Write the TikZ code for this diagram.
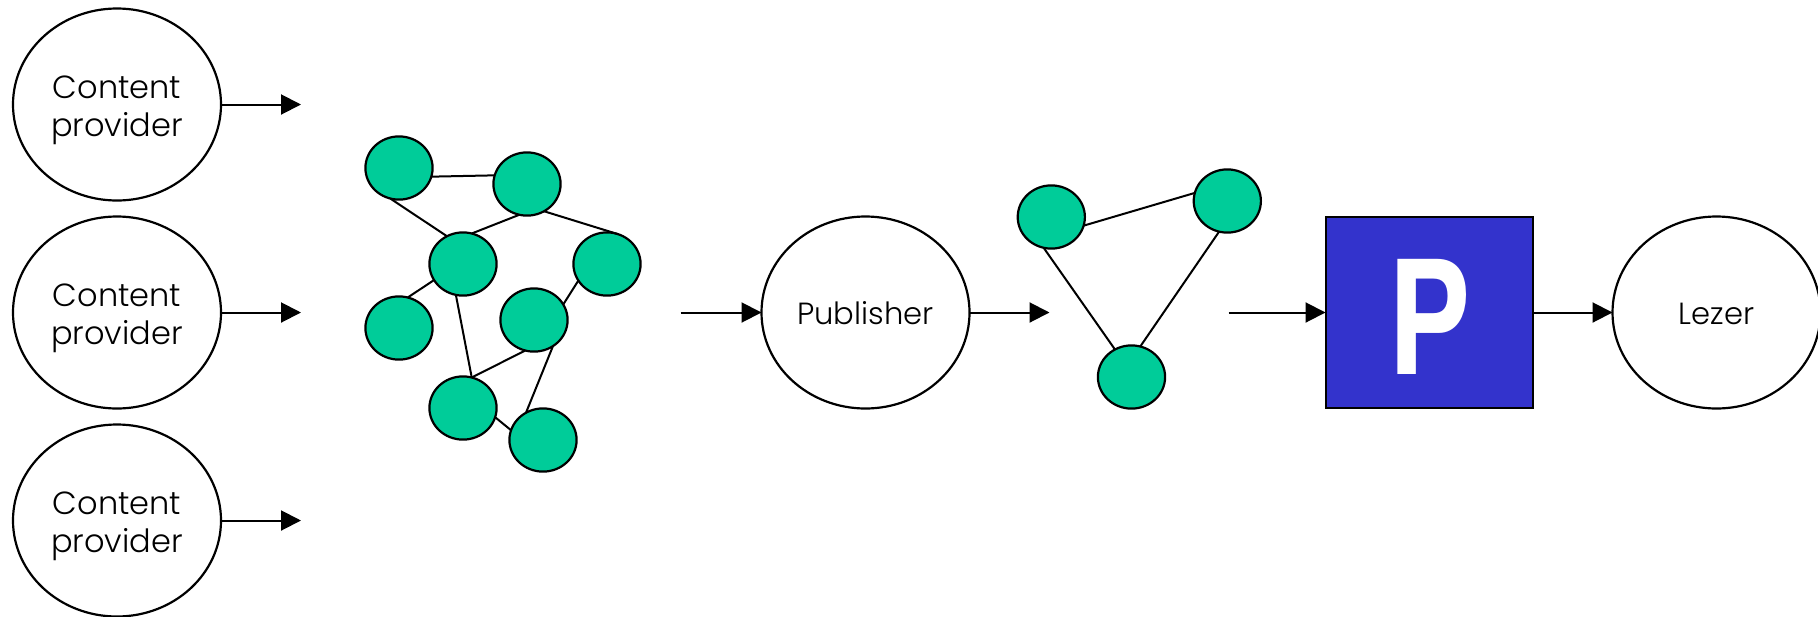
\documentclass[tikz,border=0pt]{standalone}
\usepackage{fontspec}
\setmainfont{Poppins}[UprightFont=* Light]
\newfontfamily\pfont{TeX Gyre Heros}[UprightFont=* Bold,FakeStretch=0.78]
\usetikzlibrary{shapes.geometric,arrows.meta}
\definecolor{nodegreen}{HTML}{00CC99}
\definecolor{boxblue}{HTML}{3333CC}
\tikzset{
  bigell/.style={ellipse,draw=black,line width=1.1pt,fill=white,minimum width=104pt,minimum height=96pt,inner sep=0pt,outer sep=0pt,align=center,font=\fontsize{15.3}{18.75}\selectfont},
  bigtwo/.style={bigell,font=\fontsize{16}{18.75}\selectfont},
  dot/.style={ellipse,draw=black,line width=1.1pt,fill=nodegreen,minimum width=33.6pt,minimum height=31.6pt,inner sep=0pt,outer sep=0pt},
  link/.style={draw=black,line width=1pt},
  flow/.style={draw=black,line width=1pt,-{Triangle[length=10pt,width=10pt]}},
  pbox/.style={rectangle,draw=black,line width=1pt,fill=boxblue,minimum width=103.5pt,minimum height=95.5pt,inner sep=0pt,outer sep=0pt}
}
\begin{document}
\begin{tikzpicture}[x=0.5pt,y=-0.5pt]
\useasboundingbox (0,0) rectangle (1818,616);
\node[bigtwo] (c1) at (117,104.5) {\rule{0pt}{17pt}Content\\provider};
\node[bigtwo] (c2) at (117,312.5) {\rule{0pt}{17pt}Content\\provider};
\node[bigtwo] (c3) at (117,520.5) {\rule{0pt}{17pt}Content\\provider};
\node[bigell] (pub) at (865.5,312.5) {\rule{0pt}{12.5pt}Publisher};
\node[bigell] (lez) at (1716.5,312.5) {\rule{0pt}{12.5pt}Lezer};
\node[pbox] (box) at (1429,312.5) {};
\node[anchor=base,inner sep=0pt,text=white,font=\pfont\fontsize{79}{79}\selectfont] (plogo) at (1430,374) {P};
\node[dot] (n1) at (399,168) {};
\node[dot] (n2) at (527,184) {};
\node[dot] (n3) at (463,264) {};
\node[dot] (n4) at (607,264) {};
\node[dot] (n5) at (399,328) {};
\node[dot] (n6) at (534,320) {};
\node[dot] (n7) at (463,408) {};
\node[dot] (n8) at (543,440) {};
\node[dot] (a) at (1051.3,217) {};
\node[dot] (b) at (1227.3,201) {};
\node[dot] (d) at (1131.5,377) {};
\coordinate (e1) at (301,104.5);
\coordinate (e2) at (301,312.5);
\coordinate (e3) at (301,520.5);
\coordinate (s1) at (680.7,312.5);
\coordinate (e4) at (1049.5,312.5);
\coordinate (s2) at (1228.7,312.5);
\draw[flow] (c1.east) -- (e1);
\draw[flow] (c2.east) -- (e2);
\draw[flow] (c3.east) -- (e3);
\draw[flow] (s1) -- (pub.west);
\draw[flow] (pub.east) -- (e4);
\draw[flow] (s2) -- (box.west);
\draw[flow] (box.east) -- (lez.west);
\draw[link] (n1.-15) -- (n2.165);
\draw[link] (n1.-106) -- (n3.120);
\draw[link] (n2.-104) -- (n3.74);
\draw[link] (n2.-58) -- (n4.69);
\draw[link] (n3.-151) -- (n5.74);
\draw[link] (n3.-103) -- (n7.74);
\draw[link] (n4.-150) -- (n6.28);
\draw[link] (n6.-106) -- (n7.74);
\draw[link] (n6.-54) -- (n8.122);
\draw[link] (n7.-16) -- (n8.163);
\draw[link] (a.-15) -- (b.166);
\draw[link] (a.-104) -- (d.121);
\draw[link] (b.-105) -- (d.74);
\end{tikzpicture}
\end{document}
